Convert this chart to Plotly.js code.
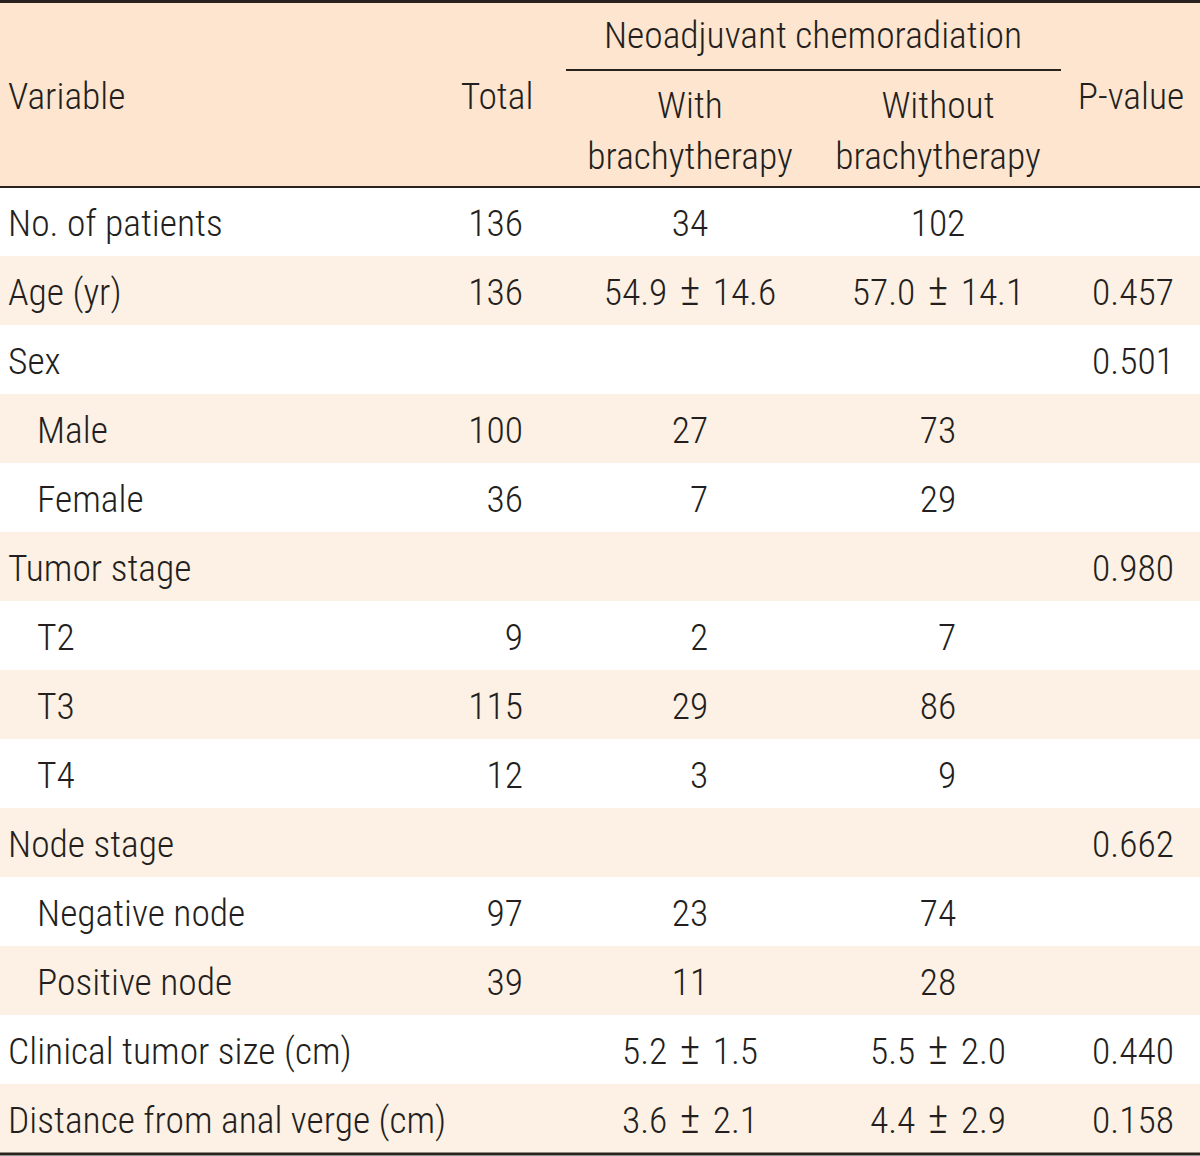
<!DOCTYPE html>
<html>
<head>
<meta charset="utf-8">
<script src="https://cdn.plot.ly/plotly-3.0.1.min.js"></script>
<style>html,body{margin:0;padding:0;background:#fff;}#chart{width:1200px;height:1156px;}</style>
</head>
<body>
<div id="chart"></div>
<script>
// ---- data ----
const variables = ["No. of patients","Age (yr)","Sex","Male","Female","Tumor stage","T2","T3","T4","Node stage","Negative node","Positive node","Clinical tumor size (cm)","Distance from anal verge (cm)"];
const indentLevel = [0,0,0,1,1,0,1,1,1,0,1,1,0,0];
const total = ["136","136","","100","36","","9","115","12","","97","39","",""];
const withBrachy = ["34","54.9 ± 14.6","","27","7","","2","29","3","","23","11","5.2 ± 1.5","3.6 ± 2.1"];
const withoutBrachy = ["102","57.0 ± 14.1","","73","29","","7","86","9","","74","28","5.5 ± 2.0","4.4 ± 2.9"];
const pValue = ["","0.457","0.501","","","0.980","","","","0.662","","","0.440","0.158"];
const headerMain = ["Variable","Total","P-value"];
const headerGroup = "Neoadjuvant chemoradiation";
const headerSubTop = ["With","Without"];
const headerSubBottom = ["brachytherapy","brachytherapy"];

// ---- layout constants ----
const W = 1200, H = 1156;
const headTop = 2, headBottom = 187, tableBottom = 1153;
const nRows = variables.length;
const rowH = (tableBottom - headBottom) / nRows;
const TY = 5; // text vertical nudge
const rowCenter = i => headBottom + rowH * (i + 0.5) + TY;
const FONT = "'Roboto Condensed', 'Liberation Sans Narrow', 'DejaVu Sans Condensed', sans-serif";
const FS = 37.5;
const TXT = "#231f20";
const HEAD_BG = "#fde5cf";
const ALT_BG = "#fdf0e4";
const LINE = "#2a221f";

const colVarX = 8, colIndentX = 37;
const colTotalRight = 523;
const colWithC = 690, colWithoutC = 938, colPC = 1133;
const pad2 = s => (/^\d$/.test(s) ? "\u2007" + s : s);
const spacePM = s => s.replace(" ± ", " \u200A<span style='font-size:44px'>±</span>\u200A ");

const ys = variables.map((_, i) => rowCenter(i));
const font = {family: FONT, size: FS, color: TXT, weight: 300};
function textTrace(xs, yv, texts, pos) {
  return {type: "scatter", mode: "text", x: xs, y: yv, text: texts, textposition: pos,
          textfont: font, hoverinfo: "skip", showlegend: false, cliponaxis: false};
}

const traces = [];
traces.push(textTrace(variables.map((_, i) => indentLevel[i] ? colIndentX : colVarX), ys, variables, "middle right"));
traces.push(textTrace(total.map(() => colTotalRight), ys, total, "middle left"));
traces.push(textTrace(withBrachy.map(() => colWithC), ys, withBrachy.map(pad2).map(spacePM), "middle center"));
traces.push(textTrace(withoutBrachy.map(() => colWithoutC), ys, withoutBrachy.map(pad2).map(spacePM), "middle center"));
traces.push(textTrace(pValue.map(() => colPC), ys, pValue, "middle center"));

// header
const headerMainY = 95 + TY;
traces.push(textTrace([colVarX], [headerMainY], [headerMain[0]], "middle right"));
traces.push(textTrace([497, 1131], [headerMainY, headerMainY], [headerMain[1], headerMain[2]], "middle center"));
traces.push(textTrace([813], [36 + 3], [headerGroup], "middle center"));
traces.push(textTrace([colWithC, colWithoutC], [104 + TY, 104 + TY], headerSubTop, "middle center"));
traces.push(textTrace([colWithC, colWithoutC], [155 + TY, 155 + TY], headerSubBottom, "middle center"));

// backgrounds & rules
const shapes = [];
shapes.push({type: "rect", xref: "x", yref: "y", x0: 0, x1: W, y0: headTop, y1: headBottom, fillcolor: HEAD_BG, line: {width: 0}, layer: "below"});
variables.forEach((_, i) => {
  if (i % 2 === 1) {
    shapes.push({type: "rect", xref: "x", yref: "y", x0: 0, x1: W, y0: headBottom + rowH * i, y1: headBottom + rowH * (i + 1), fillcolor: ALT_BG, line: {width: 0}, layer: "below"});
  }
});
shapes.push({type: "line", xref: "x", yref: "y", x0: 0, x1: W, y0: 1.5, y1: 1.5, line: {color: LINE, width: 3}});
shapes.push({type: "line", xref: "x", yref: "y", x0: 0, x1: W, y0: headBottom, y1: headBottom, line: {color: LINE, width: 2}});
shapes.push({type: "line", xref: "x", yref: "y", x0: 566, x1: 1061, y0: 70, y1: 70, line: {color: LINE, width: 2}});
shapes.push({type: "line", xref: "x", yref: "y", x0: 0, x1: W, y0: tableBottom + 1, y1: tableBottom + 1, line: {color: LINE, width: 3}});

const layout = {
  width: W, height: H,
  margin: {l: 0, r: 0, t: 0, b: 0, pad: 0},
  paper_bgcolor: "#ffffff", plot_bgcolor: "#ffffff",
  xaxis: {range: [0, W], visible: false, fixedrange: true},
  yaxis: {range: [H, 0], visible: false, fixedrange: true},
  shapes: shapes,
  showlegend: false
};
Plotly.newPlot("chart", traces, layout, {displayModeBar: false, staticPlot: true});
</script>
</body>
</html>
